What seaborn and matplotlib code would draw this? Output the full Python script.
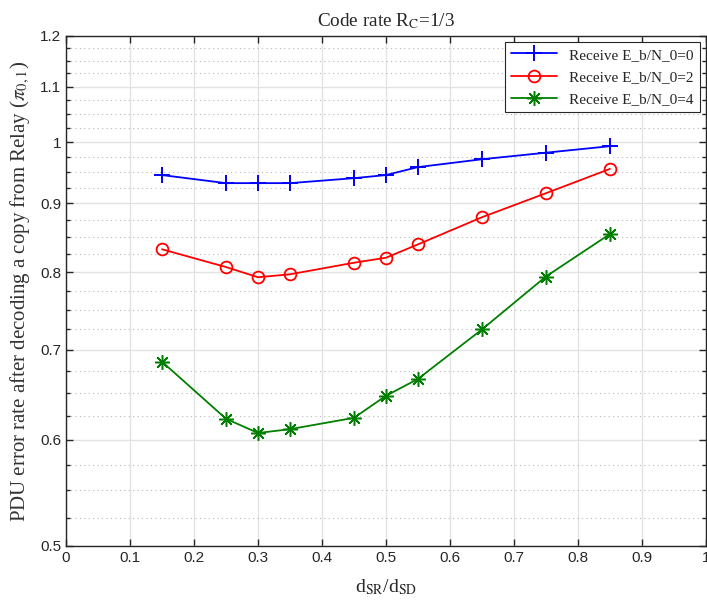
import numpy as np
import pandas as pd
import matplotlib
matplotlib.use("Agg")
import matplotlib.pyplot as plt
import matplotlib.ticker as mticker
import seaborn as sns

# Données
x_ratio = [0.15, 0.25, 0.30, 0.35, 0.45, 0.50, 0.55, 0.65, 0.75, 0.85]
per_eb0 = [0.945, 0.932, 0.932, 0.932, 0.940, 0.945, 0.958, 0.971, 0.982, 0.993]
per_eb2 = [0.832, 0.807, 0.793, 0.797, 0.813, 0.820, 0.839, 0.879, 0.916, 0.955]
per_eb4 = [0.686, 0.622, 0.607, 0.611, 0.623, 0.647, 0.666, 0.725, 0.794, 0.854]
labels = ["Receive E_b/N_0=0", "Receive E_b/N_0=2", "Receive E_b/N_0=4"]
y_major = [0.5, 0.6, 0.7, 0.8, 0.9, 1.0, 1.1, 1.2]

sns.set_style("white")
plt.rcParams.update({
    "font.family": ["Liberation Sans", "DejaVu Sans"],
    "mathtext.fontset": "stix",
    "xtick.direction": "in",
    "ytick.direction": "in",
})

series = [
    (per_eb0, "blue", dict(marker="+", markersize=11, markeredgewidth=1.4)),
    (per_eb2, "red", dict(marker="o", markersize=8.5, markerfacecolor="none", markeredgewidth=1.3)),
    (per_eb4, "green", dict(marker=(8, 2, 0), markersize=10.5, markeredgewidth=1.1)),
]

fig = plt.figure(figsize=(7.07, 6.08), dpi=100)
ax = fig.add_axes([0.0934, 0.102, 0.905, 0.839])

for (vals, col, mk), lab in zip(series, labels):
    df = pd.DataFrame({"x": x_ratio, "y": vals})
    sns.lineplot(data=df, x="x", y="y", ax=ax, color=col, linewidth=1.3,
                 markeredgecolor=col, label=lab, **mk)

ax.set_yscale("log")
ax.set_xlim(0, 1)
ax.set_ylim(0.5, 1.2)
ax.xaxis.set_major_locator(mticker.MultipleLocator(0.1))
ax.xaxis.set_major_formatter(mticker.FuncFormatter(lambda v, p: f"{v:g}"))
ax.yaxis.set_major_locator(mticker.FixedLocator(y_major))
ax.yaxis.set_major_formatter(mticker.FuncFormatter(lambda v, p: f"{v:g}"))
minors = [m for m in np.arange(0.5, 1.2001, 0.025) if min(abs(m - t) for t in y_major) > 1e-6]
ax.yaxis.set_minor_locator(mticker.FixedLocator(minors))
ax.yaxis.set_minor_formatter(mticker.NullFormatter())

ax.grid(which="major", color="#e3e3e3", linewidth=1.0)
ax.grid(which="minor", axis="y", color="#b8b8b8", linestyle=(0, (1, 3)), linewidth=0.8)
ax.set_axisbelow(True)

ax.tick_params(which="both", top=True, right=True, left=True, bottom=True,
               colors="#262626", labelsize=11, width=1.0)
ax.tick_params(which="major", length=5)
ax.tick_params(which="minor", length=3)
for sp in ax.spines.values():
    sp.set_color("#262626")
    sp.set_linewidth(1.0)

serif = ["Liberation Serif", "DejaVu Serif"]
ax.set_title("Code rate R$_\\mathrm{C}$=1/3", family=serif, fontsize=13.8, pad=7)
ax.set_xlabel("d$_\\mathrm{SR}$/d$_\\mathrm{SD}$", family=serif, fontsize=14,
              color="#262626", labelpad=9)
ax.set_ylabel("PDU error rate after decoding a copy from Relay ($\\pi_{0,1}$)",
              family=serif, fontsize=15, color="#333333", labelpad=6)

leg = ax.legend(loc="upper right", prop={"family": serif, "size": 11},
                fancybox=False, framealpha=1, edgecolor="#262626",
                handlelength=3, borderaxespad=0.4, labelspacing=0.55)
leg.get_frame().set_linewidth(0.8)

fig.savefig("out.png", dpi=100)
